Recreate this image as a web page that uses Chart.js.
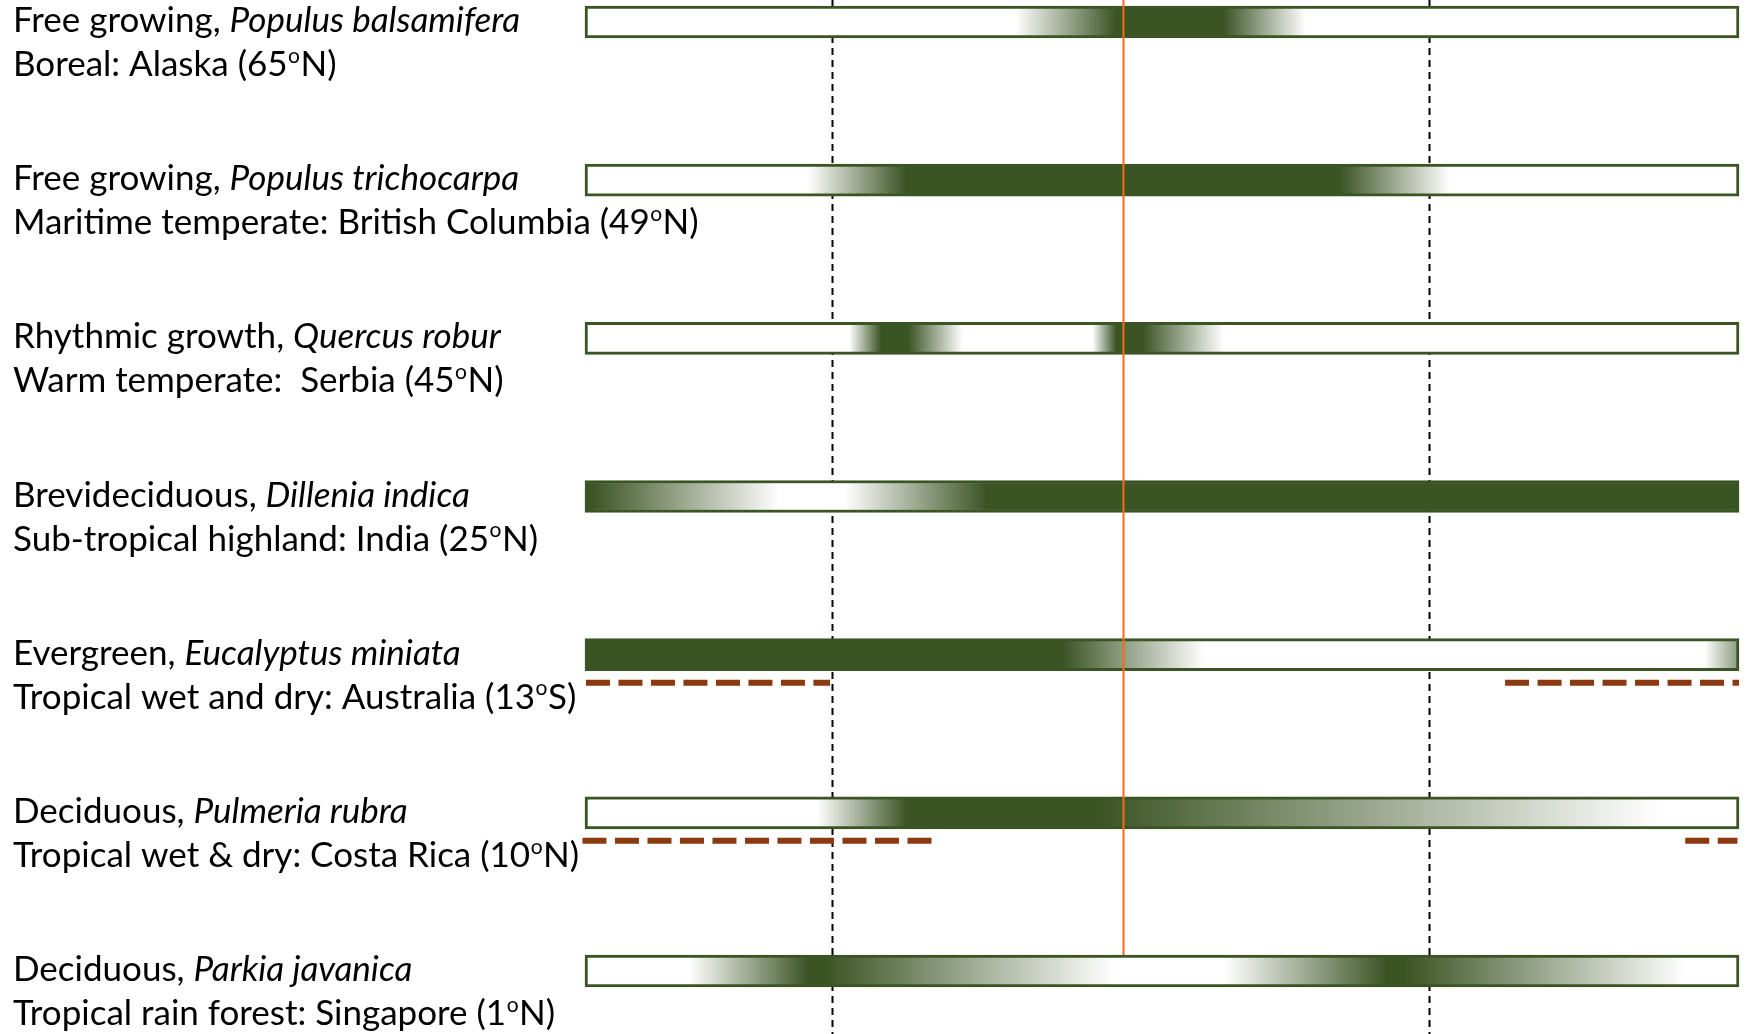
<!DOCTYPE html>
<html>
<head>
<meta charset="utf-8">
<script src="https://cdn.jsdelivr.net/npm/chart.js@4/dist/chart.umd.min.js"></script>
<style>
  html, body { margin: 0; padding: 0; background: #ffffff; }
  #wrap { width: 1747px; height: 1034px; }
</style>
</head>
<body>
<div id="wrap"><canvas id="c" width="1747" height="1034"></canvas></div>
<script>
// ---------- DATA (x axis = day of year) ----------
const yearStart = 0;
const yearEnd = 365;

const categories = ['P. balsamifera', 'P. trichocarpa', 'Q. robur', 'D. indica', 'E. miniata', 'P. rubra', 'P. javanica'];

const titleLines = [
  'Free growing, *Populus balsamifera*',
  'Free growing, *Populus trichocarpa*',
  'Rhythmic growth, *Quercus robur*',
  'Brevideciduous, *Dillenia indica*',
  'Evergreen, *Eucalyptus miniata*',
  'Deciduous, *Pulmeria rubra*',
  'Deciduous, *Parkia javanica*'
];
const climateLines = [
  'Boreal: Alaska (65^oN)',
  'Maritime temperate: British Columbia (49^oN)',
  'Warm temperate:  Serbia (45^oN)',
  'Sub-tropical highland: India (25^oN)',
  'Tropical wet and dry: Australia (13^oS)',
  'Tropical wet & dry: Costa Rica (10^oN)',
  'Tropical rain forest: Singapore (1^oN)'
];

// growth intensity stops per row: [day, intensity 0..1]
const growthBalsamifera = [[0,0],[136,0],[168,1],[202,1],[228,0],[365,0]];
const growthTrichocarpa = [[0,0],[70.5,0],[101.5,1],[238.8,1],[273.6,0],[365,0]];
const growthRobur       = [[0,0],[83.5,0],[93.6,1],[102.2,1],[119.5,0],[160.5,0],[168,1],[176.5,1],[202,0],[365,0]];
const growthIndica      = [[0,1],[2,1],[61.6,0],[82,0],[127,1],[365,1]];
const growthMiniata     = [[0,1],[151,1],[196,0],[354,0],[365,0.6]];
const growthRubra       = [[0,0],[73.4,0],[101.8,1],[162,1],[340,0],[365,0]];
const growthJavanica    = [[0,0],[33,0],[70.5,1],[76,1],[167.6,0],[202,0],[253.6,1],[259,1],[348,0],[365,0]];
const growthStops = [growthBalsamifera, growthTrichocarpa, growthRobur, growthIndica, growthMiniata, growthRubra, growthJavanica];

// dry season periods (brown dashed), per row index: [startDay, endDay]
const dryRowIndex = [4, 4, 5, 5];
const dryStart    = [0.3, 291, -0.8, 348];
const dryEnd      = [77.5, 365, 111.3, 364.5];

// reference days: equinoxes (dashed) and summer solstice (orange)
const equinoxDays = [78, 267];
const solsticeDay = 170.3;

// ---------- STYLE ----------
const DARK = [59, 84, 36];
const FONT = 'Lato, "Open Sans", sans-serif';
function mix(t) {
  const r = Math.round(255 + (DARK[0] - 255) * t);
  const g = Math.round(255 + (DARK[1] - 255) * t);
  const b = Math.round(255 + (DARK[2] - 255) * t);
  return `rgb(${r},${g},${b})`;
}
const BAR_T = 32;

function gradientFor(context) {
  const chart = context.chart;
  const area = chart.chartArea;
  if (!area) return 'white';
  const xs = chart.scales.x;
  const stops = growthStops[context.dataIndex];
  const x0 = xs.getPixelForValue(yearStart), x1 = xs.getPixelForValue(yearEnd);
  const g = chart.ctx.createLinearGradient(x0, 0, x1, 0);
  stops.forEach(([d, t]) => {
    const f = Math.min(1, Math.max(0, (d - yearStart) / (yearEnd - yearStart)));
    g.addColorStop(f, mix(t));
  });
  return g;
}

// rich text: *italic*, ^o superscript
let baseSize = 30;
function drawRich(ctx, str, x, y, size) {
  let italic = false;
  let i = 0;
  let buf = '';
  const flush = () => {
    if (!buf) return;
    ctx.font = `${italic ? 'italic ' : ''}${size}px ${FONT}`;
    ctx.fillText(buf, x, y);
    x += ctx.measureText(buf).width;
    buf = '';
  };
  while (i < str.length) {
    const ch = str[i];
    if (ch === '*') { flush(); italic = !italic; i++; continue; }
    if (ch === '^') {
      flush();
      const s = str[i + 1];
      ctx.font = `${Math.round(size * 0.6)}px ${FONT}`;
      ctx.fillText(s, x + 0.5, y - size * 0.38);
      x += ctx.measureText(s).width + 1;
      i += 2; continue;
    }
    buf += ch; i++;
  }
  flush();
}
function richWidth(ctx, str, size) {
  let w = 0, italic = false, buf = '';
  const flush = () => { if (!buf) return; ctx.font = `${italic ? 'italic ' : ''}${size}px ${FONT}`; w += ctx.measureText(buf).width; buf = ''; };
  for (let i = 0; i < str.length; i++) {
    const ch = str[i];
    if (ch === '*') { flush(); italic = !italic; continue; }
    if (ch === '^') { flush(); ctx.font = `${Math.round(size * 0.6)}px ${FONT}`; w += ctx.measureText(str[i + 1]).width + 1; i++; continue; }
    buf += ch;
  }
  flush();
  return w;
}

const overlay = {
  id: 'overlay',
  beforeDatasetsDraw(chart) {
    const ctx = chart.ctx;
    const xs = chart.scales.x;
    ctx.save();
    ctx.strokeStyle = '#000000';
    ctx.lineWidth = 2;
    ctx.setLineDash([7, 5]);
    equinoxDays.forEach(d => {
      const px = Math.round(xs.getPixelForValue(d)) + 0.5;
      ctx.beginPath();
      ctx.moveTo(px, 0);
      ctx.lineTo(px, chart.height);
      ctx.stroke();
    });
    ctx.restore();
  },
  afterDatasetsDraw(chart) {
    const ctx = chart.ctx;
    const xs = chart.scales.x, ys = chart.scales.y;
    ctx.save();
    // orange solstice line
    const ox = Math.round(xs.getPixelForValue(solsticeDay)) + 0.5;
    const lastTop = ys.getPixelForValue(categories.length - 1) - BAR_T / 2;
    ctx.strokeStyle = '#f76a17';
    ctx.lineWidth = 2;
    ctx.beginPath();
    ctx.moveTo(ox, 0);
    ctx.lineTo(ox, lastTop);
    ctx.stroke();
    // dry season dashed lines
    ctx.strokeStyle = '#8b3a0f';
    ctx.lineWidth = 6;
    ctx.setLineDash([24, 8.5]);
    dryRowIndex.forEach((r, k) => {
      const y = ys.getPixelForValue(r) + 28;
      ctx.beginPath();
      ctx.moveTo(xs.getPixelForValue(dryStart[k]), y);
      ctx.lineTo(xs.getPixelForValue(dryEnd[k]), y);
      ctx.stroke();
    });
    ctx.setLineDash([]);
    // labels
    ctx.fillStyle = '#000000';
    ctx.textBaseline = 'alphabetic';
    ctx.textAlign = 'left';
    const target = 686;
    const w0 = richWidth(ctx, climateLines[1], 30);
    baseSize = 30 * target / w0;
    categories.forEach((c, i) => {
      const cy = ys.getPixelForValue(i);
      drawRich(ctx, titleLines[i], 13, cy + 10, baseSize);
      drawRich(ctx, climateLines[i], 13, cy + 54, baseSize);
    });
    ctx.restore();
  }
};

new Chart(document.getElementById('c'), {
  type: 'bar',
  data: {
    labels: categories,
    datasets: [{
      data: categories.map(() => [yearStart, yearEnd]),
      backgroundColor: gradientFor,
      borderColor: 'rgb(59,84,36)',
      borderWidth: 3,
      borderSkipped: false,
      barThickness: BAR_T,
      clip: false
    }]
  },
  options: {
    indexAxis: 'y',
    responsive: false,
    devicePixelRatio: 1,
    animation: false,
    layout: { padding: { left: 585, right: 8, top: 22, bottom: 63 } },
    plugins: { legend: { display: false }, tooltip: { enabled: false } },
    scales: {
      x: { type: 'linear', min: yearStart, max: yearEnd, display: false },
      y: { type: 'category', offset: false, display: false }
    }
  },
  plugins: [overlay]
});
</script>
</body>
</html>
